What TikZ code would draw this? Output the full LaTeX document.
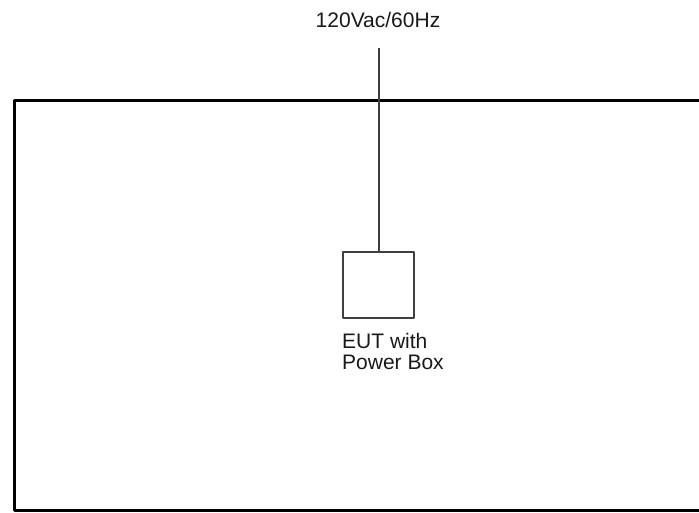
\documentclass[tikz,border=0pt]{standalone}
\usepackage{fontspec}
\setmainfont{Liberation Sans}
\usetikzlibrary{positioning}

\begin{document}
\begin{tikzpicture}[x=1pt, y=-1pt, line join=round]
  \tikzset{
    eutbox/.style={draw=black!75, line width=2pt, minimum width=71pt, minimum height=66pt, inner sep=0pt},
    lbl/.style={font=\fontsize{21}{21}\selectfont, inner sep=0pt, text=black!90},
  }
  \useasboundingbox (0,0) rectangle (699,512);
  \clip (0,0) rectangle (699,512);
  % test table outline
  \draw[line width=3.8pt] (14.5,100.5) rectangle (760,510.5);
  \node[eutbox] (eut) at (378.5,285) {};
  \coordinate (feed) at (378.5,48);
  \node[lbl, anchor=base] (supply) at (378,27) {120Vac/60Hz};
  \draw[black!75, line width=2pt] (feed) -- (eut.north);
  \node[lbl, align=left, below=14pt of eut.south west, anchor=north west] (eutlbl) {EUT with\\Power Box};
\end{tikzpicture}
\end{document}
